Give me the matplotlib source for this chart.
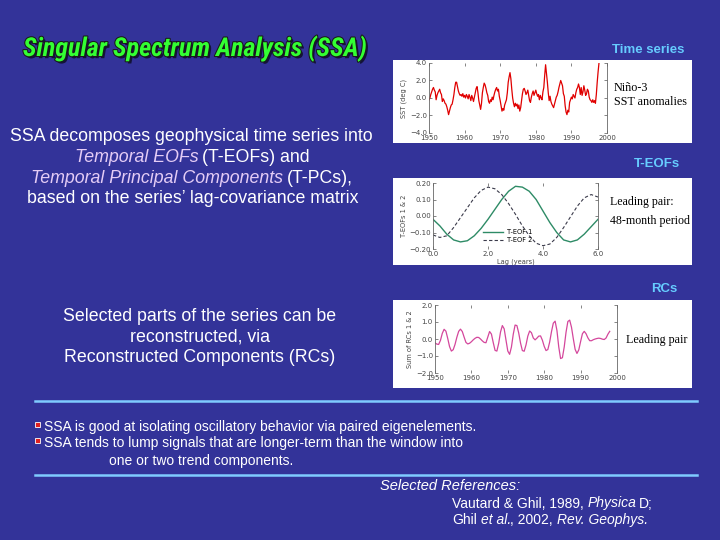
import matplotlib
matplotlib.use('Agg')
import matplotlib.pyplot as plt
import matplotlib.patheffects as pe
from matplotlib.patches import Rectangle
from matplotlib import font_manager
import numpy as np

# Nino-3 SST anomalies, quarterly from 1950.0 (deg C)
nino3_start = 1950.0
nino3_sst = [
    -0.2, 0.0, 0.4, 0.7, 1.0, 1.2, 0.9, 0.7,
    -0.2, 0.3, 0.6, 0.8, 1.0, 0.6, 0.4, -0.4,
    -0.1, -0.3, -0.6, -0.7, -1.0, -1.4, -1.9, -1.5,
    -1.1, -0.8, -0.7, -0.2, 0.4, 1.2, 1.8, 1.8,
    1.3, 0.8, 0.5, 0.3, 0.4, 0.2, 0.5, 0.1,
    0.3, 0.0, 0.4, 0.2, -0.1, 0.4, 0.1, -0.3,
    0.3, 0.0, -0.4, 0.1, 0.6, 1.1, 1.3, 0.6,
    -0.3, -0.8, -1.3, -0.6, 0.6, 1.2, 1.7, 1.5,
    1.1, 0.6, 0.3, -0.4, -0.6, -0.2, -0.4, 0.1,
    -0.2, 0.3, 0.7, 1.0, 1.2, 0.8, 1.0, 0.2,
    -0.3, -0.9, -1.5, -1.2, -1.4, -0.8, -0.5, -0.2,
    0.6, 1.8, 2.4, 2.9, 2.2, 1.0, 0.0, -0.6,
    -1.0, -0.6, -0.9, -0.7, -1.2, -0.8, -1.5, -1.1,
    -0.3, 0.5, 1.0, 1.1, 0.8, 0.4, 0.6, 0.9,
    0.3, -0.3, -0.5, 0.1, 0.5, 0.8, 0.3, 0.6,
    0.9, 0.5, 0.2, 0.4, -0.2, 0.3, 0.0, -0.2,
    0.7, 1.2, 2.6, 3.8, 2.8, 1.8, 0.6, -0.3,
    0.2, -0.4, -0.7, -0.9, -1.1, -0.7, -0.3, 0.1,
    0.3, 0.7, 1.2, 1.6, 2.0, 1.7, 1.4, 0.5,
    0.2, -0.9, -1.6, -1.9, -1.4, -1.6, -0.5, -0.2,
    0.1, -0.1, 0.4, 0.2, 0.0, 0.6, 1.0, 1.2,
    1.6, 1.2, 0.4, 1.2, 0.3, 0.7, 1.4, 0.9,
    0.3, 0.5, 1.0, 0.8, 0.1, -0.2, -0.3, -0.5,
    -0.2, -0.5, -0.3, -0.6, 0.4, 1.8, 3.0, 4.0,
]

# T-EOFs 1 and 2, every quarter year of lag
lag_years = [0.0, 0.25, 0.5, 0.75, 1.0, 1.25, 1.5, 1.75, 2.0, 2.25, 2.5, 2.75,
             3.0, 3.25, 3.5, 3.75, 4.0, 4.25, 4.5, 4.75, 5.0, 5.25, 5.5, 5.75, 6.0]
teof1 = [-0.02, -0.06, -0.11, -0.145, -0.157, -0.15, -0.12, -0.075, -0.02,
         0.04, 0.10, 0.15, 0.18, 0.175, 0.15, 0.10, 0.03, -0.04, -0.10,
         -0.145, -0.157, -0.145, -0.11, -0.065, -0.02]
teof2 = [-0.115, -0.13, -0.12, -0.07, -0.01, 0.05, 0.11, 0.155, 0.175, 0.165,
         0.13, 0.075, 0.01, -0.06, -0.12, -0.165, -0.18, -0.17, -0.13, -0.07,
         -0.005, 0.06, 0.11, 0.13, 0.115]

# sum of RCs 1 & 2 (leading pair), every half year from 1950.0
rc_start = 1950.0
rc_sum = [
    -0.23, -0.30, -0.32, -0.08, 0.33, 0.57, 0.46, 0.03, -0.45, -0.71,
    -0.63, -0.32, 0.10, 0.45, 0.58, 0.44, 0.11, -0.20, -0.29, -0.25,
    -0.16, -0.05, 0.04, 0.10, 0.09, 0.00, -0.11, -0.20, -0.22, 0.11,
    0.44, 0.29, -0.21, -0.67, -0.71, -0.25, 0.41, 0.79, 0.60, -0.06,
    -0.71, -0.90, -0.47, 0.28, 0.82, 0.79, 0.35, -0.24, -0.68, -0.72,
    -0.35, 0.17, 0.47, 0.37, 0.06, -0.05, 0.05, 0.17, 0.18, -0.07,
    -0.43, -0.68, -0.62, -0.18, 0.43, 0.93, 1.05, 0.50, -0.47, -1.15,
    -1.10, -0.47, 0.40, 1.03, 1.11, 0.69, 0.01, -0.61, -0.85, -0.64,
    -0.15, 0.31, 0.45, 0.31, 0.07, -0.10, -0.10, -0.04, 0.00, 0.03,
    0.05, 0.03, -0.01, -0.03, 0.06, 0.28, 0.45,
]

W, H = 720, 540
BG = '#333399'
CYAN = '#66CCFF'
LILAC = '#E4CCF6'
SANS = ['Liberation Sans', 'DejaVu Sans']
SERIF = ['Liberation Serif', 'DejaVu Serif']

# a narrow face for the title if one is installed
installed = {f.name for f in font_manager.fontManager.ttflist}
TITLE_FONT = [f for f in ['Liberation Sans Narrow', 'Roboto Condensed', 'DejaVu Sans Condensed']
              if f in installed] + ['Liberation Sans']

fig = plt.figure(figsize=(7.2, 5.4), dpi=100, facecolor=BG)
renderer = fig.canvas.get_renderer()


def fx(px):
    return px / W


def fy(py):
    return 1 - py / H


def rich_line(segs, x, y, size, ha='center'):
    # segments of differently styled text laid out on one baseline
    p1 = fig.text(0, 0, 'a a', fontsize=size, family=SANS)
    p2 = fig.text(0, 0, 'aa', fontsize=size, family=SANS)
    space = p1.get_window_extent(renderer).width - p2.get_window_extent(renderer).width
    p1.remove()
    p2.remove()
    items, total = [], 0
    prev_italic = False
    for i, (s, st) in enumerate(segs):
        if i == 0:
            gap = 0
        elif s.startswith(' '):
            gap = space - (1.5 if prev_italic else 0)
        else:
            gap = -0.5
        t = fig.text(0, fy(y), s.strip(), fontsize=size, va='baseline',
                     family=SANS, **st)
        w = t.get_window_extent(renderer).width
        items.append((t, gap, w))
        total += gap + w
        prev_italic = st.get('style') == 'italic'
    x0 = x - total / 2 if ha == 'center' else x
    for t, gap, w in items:
        x0 += gap
        t.set_x(fx(x0))
        x0 += w


# title, squeezed to the width it has on the slide
title = fig.text(fx(195), fy(56), 'Singular Spectrum Analysis (SSA)',
                 family=TITLE_FONT, fontsize=19, fontweight='bold', style='italic',
                 color='#33FF33', ha='center', va='baseline')
tw = title.get_window_extent(renderer).width
title.set_fontsize(19 * 344 / tw)
title.set_path_effects([pe.SimplePatchShadow(offset=(1.6, -1.6), shadow_rgbFace='#101030', alpha=0.9),
                        pe.Stroke(linewidth=1.5, foreground='#1A1A1A'), pe.Normal()])

W_ = {'color': 'white'}
IT = {'color': LILAC, 'style': 'italic'}
WI = {'color': 'white', 'style': 'italic'}
rich_line([('SSA decomposes geophysical time series into', W_)], 191, 141, 12.8)
rich_line([('Temporal EOFs', IT), (' (T-EOFs) and', W_)], 192, 162, 12.8)
rich_line([('Temporal Principal Components', IT), (' (T-PCs),', W_)], 192, 183, 12.8)
rich_line([('based on the series\u2019 lag-covariance matrix', W_)], 193, 203.5, 12.8)

for txt, yy in [('Selected parts of the series can be', 321),
                ('reconstructed, via', 342),
                ('Reconstructed Components (RCs)', 362)]:
    fig.text(fx(200), fy(yy), txt, color='white', fontsize=12.8, family=SANS,
             ha='center', va='baseline')

# panel headers
for txt, xx, yy in [('Time series', 684, 53), ('T-EOFs', 680, 167), ('RCs', 677, 292)]:
    fig.text(fx(xx), fy(yy), txt, color=CYAN, fontsize=9.5, fontweight='bold',
             family=SANS, ha='right', va='baseline')

# white boxes behind the figures
for top, bot in [(60, 143), (178, 265), (300, 388)]:
    fig.add_artist(Rectangle((fx(393), fy(bot)), fx(692) - fx(393), (bot - top) / H,
                             transform=fig.transFigure, facecolor='white',
                             edgecolor='none', zorder=-1))


def style_panel(ax):
    ax.spines['top'].set_visible(False)
    ax.spines['bottom'].set_visible(False)
    for s in ('left', 'right'):
        ax.spines[s].set_color('#666666')
        ax.spines[s].set_linewidth(0.6)
    ax.tick_params(direction='in', length=2, width=0.5, labelsize=5,
                   colors='#555555', labelcolor='#444444', top=True, right=True, pad=1.5)
    ax.tick_params(axis='y', labelright=False)
    ax.tick_params(axis='x', labeltop=False)


def panel_axes(left, right, top, bot):
    return fig.add_axes([fx(left), fy(bot), (right - left) / W, (bot - top) / H])


# time series
ax1 = panel_axes(429, 607, 63, 133)
t_years = nino3_start + 0.25 * np.arange(len(nino3_sst))
ax1.plot(t_years, nino3_sst, color='#E00000', lw=0.9)
ax1.set_xlim(1950, 2000)
ax1.set_ylim(-4, 4)
ax1.set_xticks([1950, 1960, 1970, 1980, 1990, 2000])
ax1.set_yticks([-4, -2, 0, 2, 4])
ax1.set_yticklabels(['\u22124.0', '\u22122.0', '0.0', '2.0', '4.0'])
ax1.set_ylabel('SST (deg C)', fontsize=4.8, color='#444444', labelpad=2)
style_panel(ax1)
fig.text(fx(614), fy(91), 'Ni\u00f1o-3', fontsize=8.7, family=SERIF, va='baseline')
fig.text(fx(614), fy(105), 'SST anomalies', fontsize=8.7, family=SERIF, va='baseline')

# T-EOFs
ax2 = panel_axes(433, 598, 183, 249)
ax2.plot(lag_years, teof1, color='#2E8B66', lw=1.0, label='T-EOF 1')
ax2.plot(lag_years, teof2, color='#3A3A4A', lw=0.8, ls=(0, (3, 2)), label='T-EOF 2')
ax2.set_xlim(0, 6)
ax2.set_ylim(-0.2, 0.2)
ax2.set_xticks([0, 2, 4, 6])
ax2.set_xticklabels(['0.0', '2.0', '4.0', '6.0'])
ax2.set_yticks([-0.2, -0.1, 0, 0.1, 0.2])
ax2.set_yticklabels(['\u22120.20', '\u22120.10', '0.00', '0.10', '0.20'])
ax2.set_ylabel('T-EOFs 1 & 2', fontsize=4.8, color='#444444', labelpad=2)
ax2.set_xlabel('Lag (years)', fontsize=4.8, color='#444444', labelpad=1)
style_panel(ax2)
ax2.legend(loc='lower left', bbox_to_anchor=(0.28, 0.04), fontsize=4.8, frameon=False,
           handlelength=3, labelspacing=0.25, borderpad=0, handletextpad=0.6)
fig.text(fx(610), fy(205), 'Leading pair:', fontsize=8.6, family=SERIF, va='baseline')
fig.text(fx(610), fy(224), '48-month period', fontsize=8.6, family=SERIF, va='baseline')

# RCs
ax3 = panel_axes(435, 617, 305, 373)
rc_years = rc_start + 0.5 * np.arange(len(rc_sum))
ax3.plot(rc_years, rc_sum, color='#D4479C', lw=0.9)
ax3.set_xlim(1950, 2000)
ax3.set_ylim(-2, 2)
ax3.set_xticks([1950, 1960, 1970, 1980, 1990, 2000])
ax3.set_yticks([-2, -1, 0, 1, 2])
ax3.set_yticklabels(['\u22122.0', '\u22121.0', '0.0', '1.0', '2.0'])
ax3.set_ylabel('Sum of RCs 1 & 2', fontsize=4.8, color='#444444', labelpad=2)
style_panel(ax3)
fig.text(fx(626), fy(343), 'Leading pair', fontsize=8.7, family=SERIF, va='baseline')

# separators
for yy in (401, 475):
    fig.add_artist(plt.Line2D([fx(35), fx(697)], [fy(yy), fy(yy)], color='#7FCBFF',
                              lw=1.8, transform=fig.transFigure))

# bullets
for yy in (424, 440):
    fig.add_artist(Rectangle((fx(35), fy(yy + 3)), 5 / W, 5 / H, transform=fig.transFigure,
                             facecolor='#E02020', edgecolor='white', lw=0.6))
bullets = [('SSA is good at isolating oscillatory behavior via paired eigenelements.', 44, 431.5),
           ('SSA tends to lump signals that are longer-term than the window into', 44, 447.5),
           ('one or two trend components.', 109, 464.5)]
for txt, xx, yy in bullets:
    fig.text(fx(xx), fy(yy), txt, color='white', fontsize=10, family=SANS, va='baseline')

# references
fig.text(fx(380), fy(490.5), 'Selected References:', color='white', fontsize=10.5,
         family=SANS, style='italic', va='baseline')
rich_line([('Vautard & Ghil, 1989,', W_), (' Physica', WI), (' D;', W_)],
          452, 507.5, 10, ha='left')
rich_line([('Ghil', W_), (' et al.', WI), (', 2002,', W_), (' Rev. Geophys.', WI)],
          452, 524, 10, ha='left')

fig.savefig('out.png', dpi=100, facecolor=BG)
